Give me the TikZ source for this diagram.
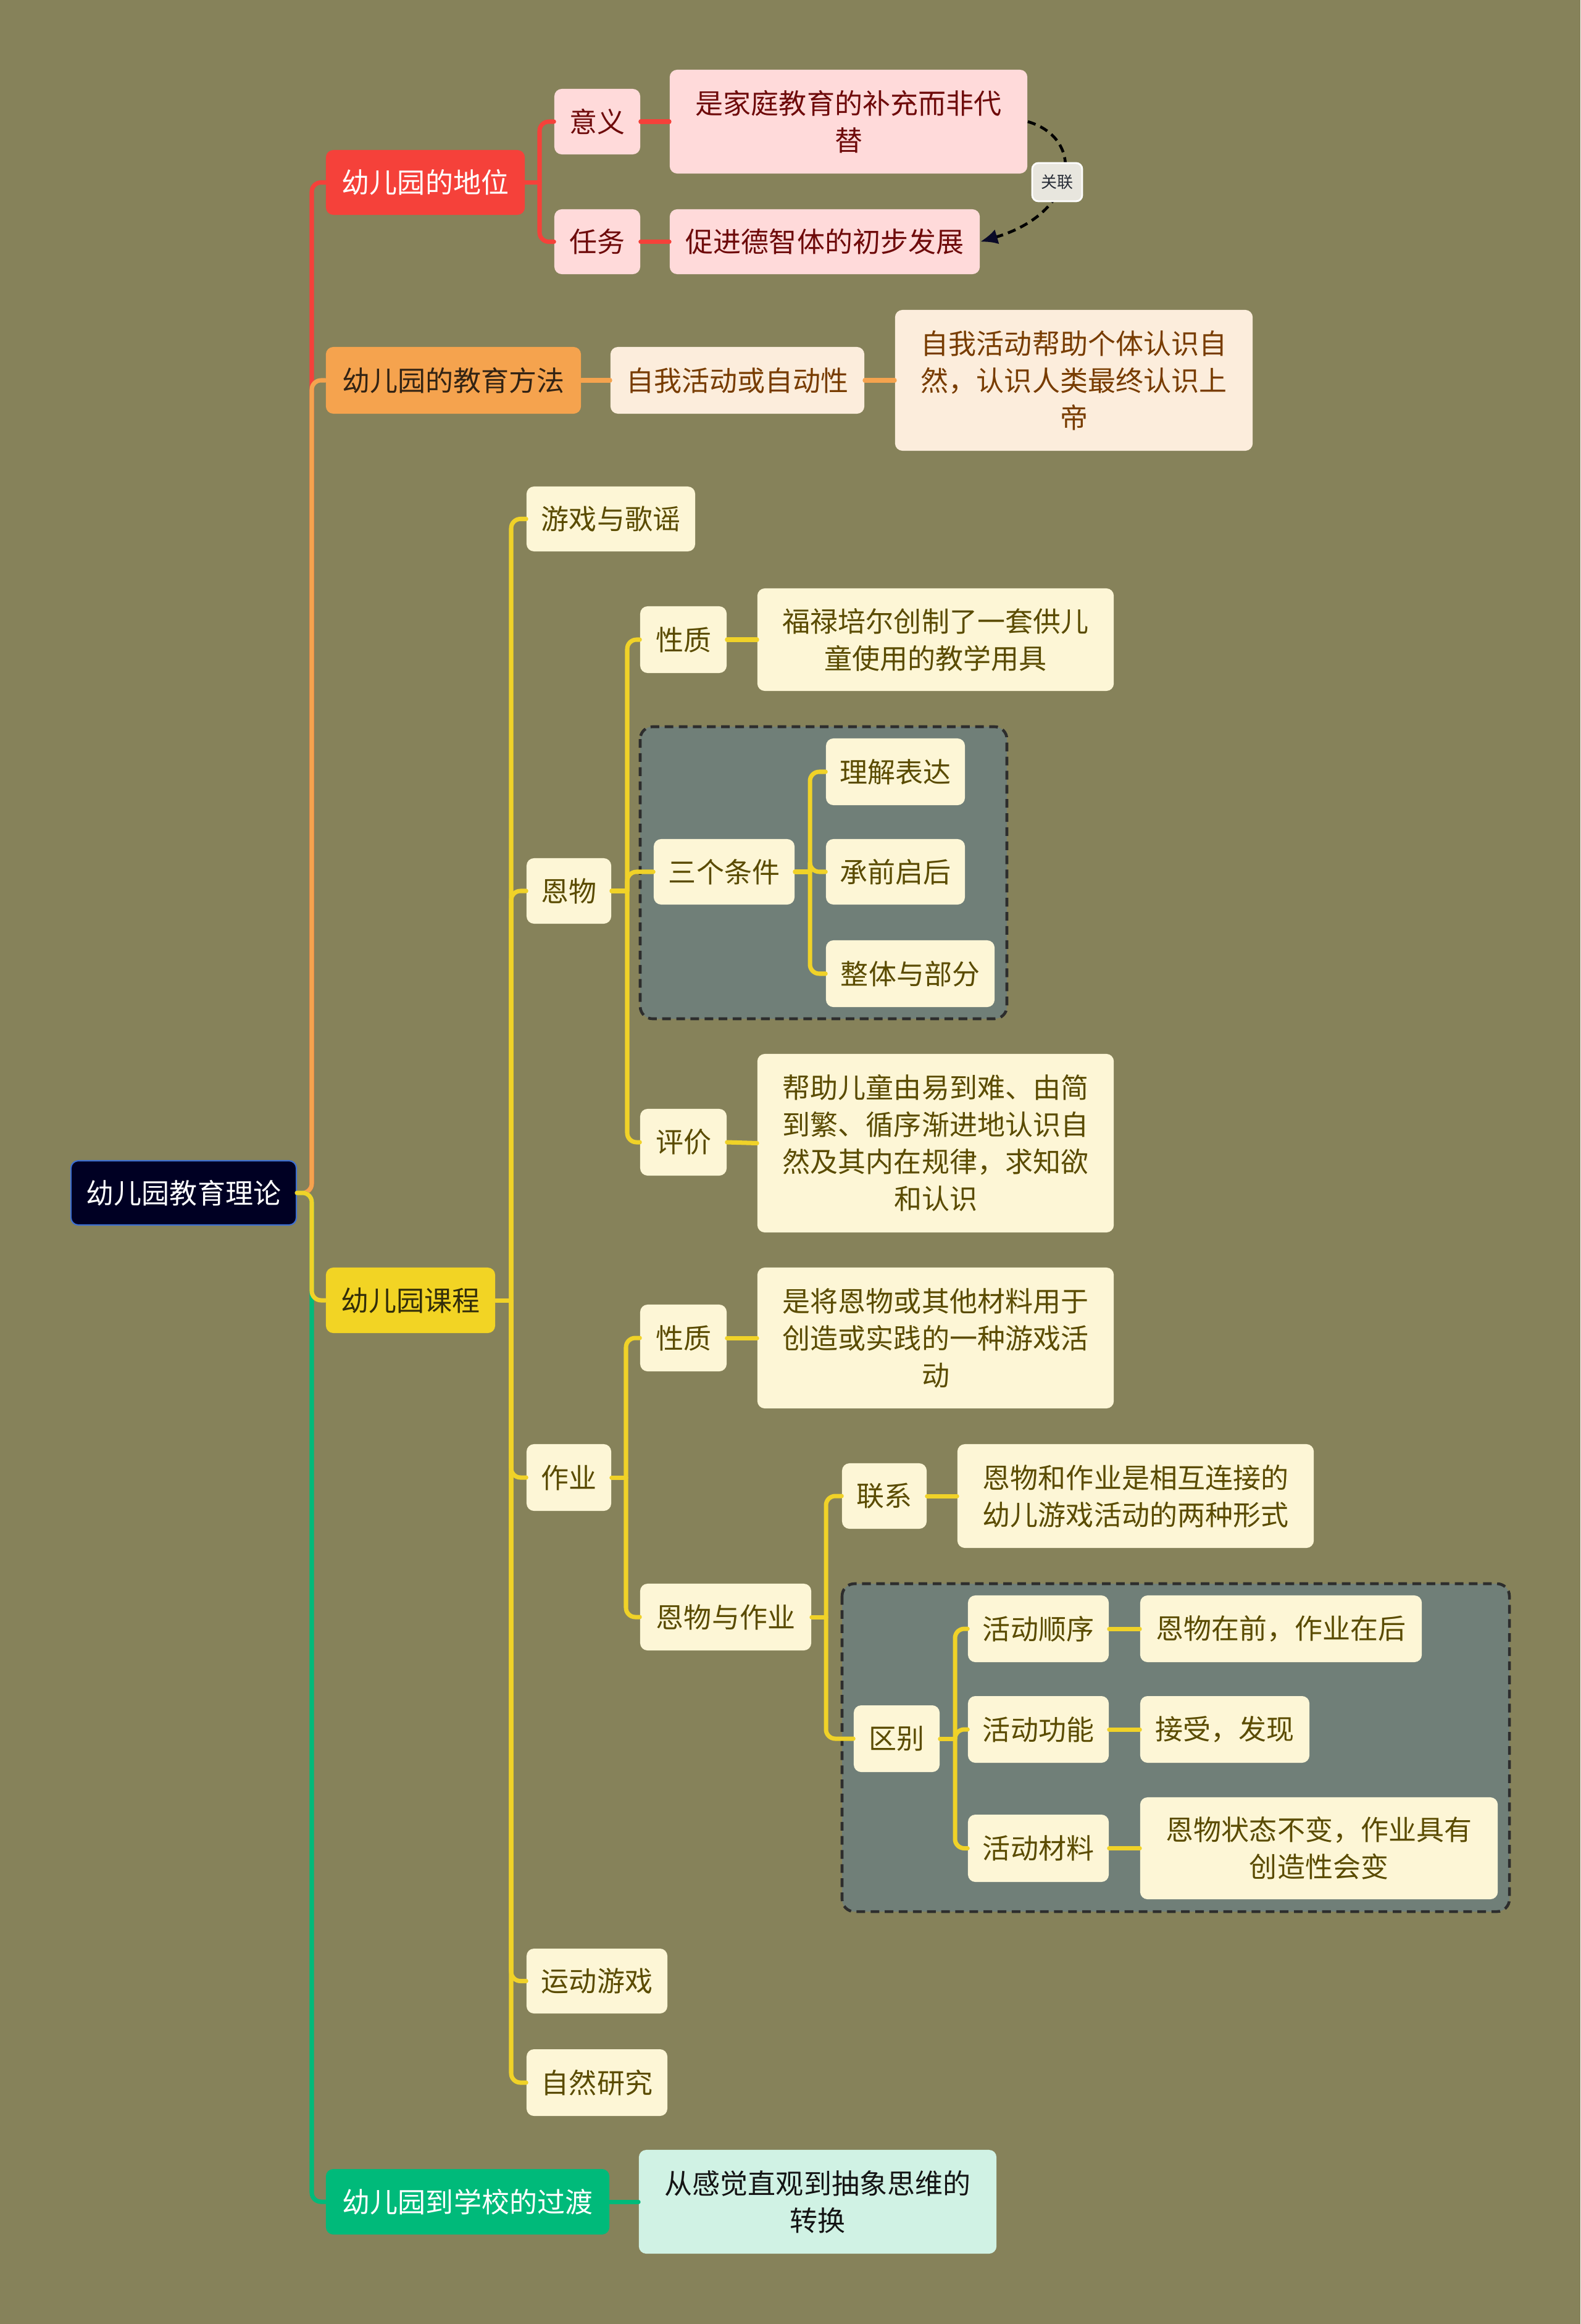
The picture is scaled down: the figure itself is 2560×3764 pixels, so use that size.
\documentclass[tikz,border=0pt]{standalone}
\usepackage{fontspec}
\newfontfamily\cjk{Noto Sans CJK SC}
\usetikzlibrary{arrows.meta}
\definecolor{bg}{RGB}{134,130,90}
\definecolor{rootfill}{RGB}{0,0,35}
\definecolor{rootborder}{RGB}{60,110,210}
\definecolor{redmain}{RGB}{245,65,58}
\definecolor{redsub}{RGB}{255,218,218}
\definecolor{redtext}{RGB}{110,10,10}
\definecolor{ormain}{RGB}{245,163,78}
\definecolor{orsub}{RGB}{252,237,220}
\definecolor{ortext}{RGB}{120,60,0}
\definecolor{ormaintext}{RGB}{50,35,20}
\definecolor{yemain}{RGB}{242,212,36}
\definecolor{yesub}{RGB}{253,246,214}
\definecolor{yetext}{RGB}{90,75,0}
\definecolor{yemaintext}{RGB}{50,45,10}
\definecolor{yeline}{RGB}{240,210,40}
\definecolor{grmain}{RGB}{0,186,122}
\definecolor{grsub}{RGB}{208,242,228}
\definecolor{grtext}{RGB}{20,20,20}
\definecolor{groupfill}{RGB}{112,127,120}
\definecolor{groupborder}{RGB}{45,45,45}
\definecolor{relfill}{RGB}{232,230,222}
\definecolor{reltext}{RGB}{40,45,55}
\definecolor{arrowc}{RGB}{10,10,40}
\begin{document}
\begin{tikzpicture}[x=0.01cm,y=-0.01cm,
  box/.style={rounded corners=0.12cm, inner sep=0pt, align=center,
    font=\cjk\fontsize{12.8}{17.07}\selectfont},
  rootbox/.style={box, fill=rootfill, draw=rootborder, line width=0.6pt, text=white},
  redmainbox/.style={box, fill=redmain, text=white},
  redsubbox/.style={box, fill=redsub, text=redtext},
  ormainbox/.style={box, fill=ormain, text=ormaintext},
  orsubbox/.style={box, fill=orsub, text=ortext},
  yemainbox/.style={box, fill=yemain, text=yemaintext},
  yesubbox/.style={box, fill=yesub, text=yetext},
  grmainbox/.style={box, fill=grmain, text=white},
  grsubbox/.style={box, fill=grsub, text=grtext},
  groupbox/.style={fill=groupfill, draw=groupborder, line width=1.3pt, dash pattern=on 4pt off 2.5pt, rounded corners=0.2cm},
  relbox/.style={rounded corners=0.1cm, fill=relfill, draw=white, line width=0.8pt, inner sep=0pt, text=reltext, font=\cjk\fontsize{7.4}{9}\selectfont},
  redline/.style={draw=redmain, line width=2pt, line cap=round},
  orline/.style={draw=ormain, line width=2pt, line cap=round},
  yeline/.style={draw=yeline, line width=2pt, line cap=round},
  grline/.style={draw=grmain, line width=2pt, line cap=round},
  rc/.style={rounded corners=0.15cm}
]
\useasboundingbox (0,0) rectangle (2560,3764);
\fill[bg] (0,0) rectangle (2560,3764);

% bus coordinates
\coordinate (tR) at (505,0);
\coordinate (bA) at (874,0);
\coordinate (bC) at (828,0);
\coordinate (bEW) at (1016,0);
\coordinate (b3) at (1312,0);
\coordinate (bZY) at (1014,0);
\coordinate (bEZ) at (1338,0);
\coordinate (bQB) at (1547,0);

% group boxes
\draw[groupbox] (1037,1177) rectangle (1631,1650);
\draw[groupbox] (1364,2565) rectangle (2445,3096);

% nodes
\node[rootbox, minimum width=3.65cm, minimum height=1.04cm] (root) at (297.5,1932) {幼儿园教育理论};

\node[redmainbox, minimum width=3.22cm, minimum height=1.05cm] (A) at (689,295.5) {幼儿园的地位};
\node[redsubbox, minimum width=1.39cm, minimum height=1.06cm] (yiyi) at (967.5,197) {意义};
\node[redsubbox, minimum width=5.79cm, minimum height=1.68cm] (buchong) at (1374.5,197) {是家庭教育的补充而非代\\替};
\node[redsubbox, minimum width=1.39cm, minimum height=1.05cm] (renwu) at (967.5,391.5) {任务};
\node[redsubbox, minimum width=5.02cm, minimum height=1.05cm] (cujin) at (1336,391.5) {促进德智体的初步发展};

\node[ormainbox, minimum width=4.13cm, minimum height=1.08cm] (B) at (734.5,616) {幼儿园的教育方法};
\node[orsubbox, minimum width=4.11cm, minimum height=1.08cm] (zidong) at (1194.5,616) {自我活动或自动性};
\node[orsubbox, minimum width=5.79cm, minimum height=2.28cm] (shangdi) at (1739.5,616) {自我活动帮助个体认识自\\然，认识人类最终认识上\\帝};

\node[yemainbox, minimum width=2.74cm, minimum height=1.06cm] (C) at (665,2106) {幼儿园课程};
\node[yesubbox, minimum width=2.73cm, minimum height=1.05cm] (youxi) at (989.5,840.5) {游戏与歌谣};
\node[yesubbox, minimum width=1.37cm, minimum height=1.06cm] (enwu) at (921.5,1443) {恩物};
\node[yesubbox, minimum width=1.40cm, minimum height=1.08cm] (xz1) at (1107,1036) {性质};
\node[yesubbox, minimum width=5.77cm, minimum height=1.66cm] (fulu) at (1515.5,1036) {福禄培尔创制了一套供儿\\童使用的教学用具};
\node[yesubbox, minimum width=2.28cm, minimum height=1.06cm] (san) at (1173,1412) {三个条件};
\node[yesubbox, minimum width=2.25cm, minimum height=1.08cm] (lijie) at (1450.5,1250) {理解表达};
\node[yesubbox, minimum width=2.25cm, minimum height=1.06cm] (cheng) at (1450.5,1412) {承前启后};
\node[yesubbox, minimum width=2.73cm, minimum height=1.08cm] (zhengti) at (1474.5,1577) {整体与部分};
\node[yesubbox, minimum width=1.40cm, minimum height=1.08cm] (pingjia) at (1107,1850) {评价};
\node[yesubbox, minimum width=5.77cm, minimum height=2.89cm] (bangzhu) at (1515.5,1851.5) {帮助儿童由易到难、由简\\到繁、循序渐进地认识自\\然及其内在规律，求知欲\\和认识};
\node[yesubbox, minimum width=1.37cm, minimum height=1.08cm] (zuoye) at (921.5,2393) {作业};
\node[yesubbox, minimum width=1.40cm, minimum height=1.08cm] (xz2) at (1107,2167) {性质};
\node[yesubbox, minimum width=5.77cm, minimum height=2.28cm] (shijiang) at (1515.5,2167) {是将恩物或其他材料用于\\创造或实践的一种游戏活\\动};
\node[yesubbox, minimum width=2.77cm, minimum height=1.08cm] (ezy) at (1175.5,2619) {恩物与作业};
\node[yesubbox, minimum width=1.37cm, minimum height=1.06cm] (lianxi) at (1432.5,2423) {联系};
\node[yesubbox, minimum width=5.77cm, minimum height=1.68cm] (xianghu) at (1839.5,2423) {恩物和作业是相互连接的\\幼儿游戏活动的两种形式};
\node[yesubbox, minimum width=1.39cm, minimum height=1.08cm] (qubie) at (1452.5,2816) {区别};
\node[yesubbox, minimum width=2.28cm, minimum height=1.08cm] (shunxu) at (1682,2638) {活动顺序};
\node[yesubbox, minimum width=4.56cm, minimum height=1.08cm] (zaiqian) at (2075,2638) {恩物在前，作业在后};
\node[yesubbox, minimum width=2.28cm, minimum height=1.08cm] (gongneng) at (1682,2801) {活动功能};
\node[yesubbox, minimum width=2.74cm, minimum height=1.08cm] (jieshou) at (1984,2801) {接受，发现};
\node[yesubbox, minimum width=2.28cm, minimum height=1.09cm] (cailiao) at (1682,2993.5) {活动材料};
\node[yesubbox, minimum width=5.79cm, minimum height=1.65cm] (zhuangtai) at (2136.5,2993.5) {恩物状态不变，作业具有\\创造性会变};
\node[yesubbox, minimum width=2.28cm, minimum height=1.05cm] (yundong) at (967,3208.5) {运动游戏};
\node[yesubbox, minimum width=2.28cm, minimum height=1.08cm] (ziran) at (967,3373) {自然研究};

\node[grmainbox, minimum width=4.59cm, minimum height=1.06cm] (D) at (757.5,3566) {幼儿园到学校的过渡};
\node[grsubbox, minimum width=5.79cm, minimum height=1.68cm] (zhuanhuan) at (1324.5,3566) {从感觉直观到抽象思维的\\转换};

% root connectors
\draw[redline, rc] (root.east) -- (root.east -| tR) |- (A.west);
\draw[orline, rc] (root.east) -- (root.east -| tR) |- (B.west);
\draw[grline, rc] (root.east) -- (root.east -| tR) |- (D.west);
\draw[yeline, rc] (root.east) -- (root.east -| tR) |- (C.west);

% red branch
\draw[redline] (A.east) -- (A.east -| bA);
\draw[redline, rc] (A.east -| bA) |- (yiyi.west);
\draw[redline, rc] (A.east -| bA) |- (renwu.west);
\draw[redline] (yiyi.east) -- (buchong.west);
\draw[redline] (renwu.east) -- (cujin.west);

% orange branch
\draw[orline] (B.east) -- (zidong.west);
\draw[orline] (zidong.east) -- (shangdi.west);

% green branch
\draw[grline] (D.east) -- (zhuanhuan.west);

% yellow branch
\draw[yeline] (C.east) -- (C.east -| bC);
\foreach \c in {youxi,enwu,zuoye,yundong,ziran}
  \draw[yeline, rc] (C.east -| bC) |- (\c.west);

\draw[yeline] (enwu.east) -- (enwu.east -| bEW);
\foreach \c in {xz1,san,pingjia}
  \draw[yeline, rc] (enwu.east -| bEW) |- (\c.west);
\draw[yeline] (xz1.east) -- (fulu.west);
\draw[yeline] (pingjia.east) -- (bangzhu.west);

\draw[yeline] (san.east) -- (san.east -| b3);
\foreach \c in {lijie,cheng,zhengti}
  \draw[yeline, rc] (san.east -| b3) |- (\c.west);

\draw[yeline] (zuoye.east) -- (zuoye.east -| bZY);
\foreach \c in {xz2,ezy}
  \draw[yeline, rc] (zuoye.east -| bZY) |- (\c.west);
\draw[yeline] (xz2.east) -- (shijiang.west);

\draw[yeline] (ezy.east) -- (ezy.east -| bEZ);
\foreach \c in {lianxi,qubie}
  \draw[yeline, rc] (ezy.east -| bEZ) |- (\c.west);
\draw[yeline] (lianxi.east) -- (xianghu.west);

\draw[yeline] (qubie.east) -- (qubie.east -| bQB);
\foreach \c in {shunxu,gongneng,cailiao}
  \draw[yeline, rc] (qubie.east -| bQB) |- (\c.west);
\draw[yeline] (shunxu.east) -- (zaiqian.west);
\draw[yeline] (gongneng.east) -- (jieshou.west);
\draw[yeline] (cailiao.east) -- (zhuangtai.west);

% relation
\draw[line width=1.3pt, dash pattern=on 3.8pt off 2.4pt, -{Latex[length=8pt,width=7pt,color=arrowc]}]
  (buchong.east) .. controls (1760,225) and (1745,345) .. (cujin.east);
\node[relbox, minimum width=0.81cm, minimum height=0.62cm] (rel) at (1712.5,295) {关联};
\end{tikzpicture}
\end{document}
